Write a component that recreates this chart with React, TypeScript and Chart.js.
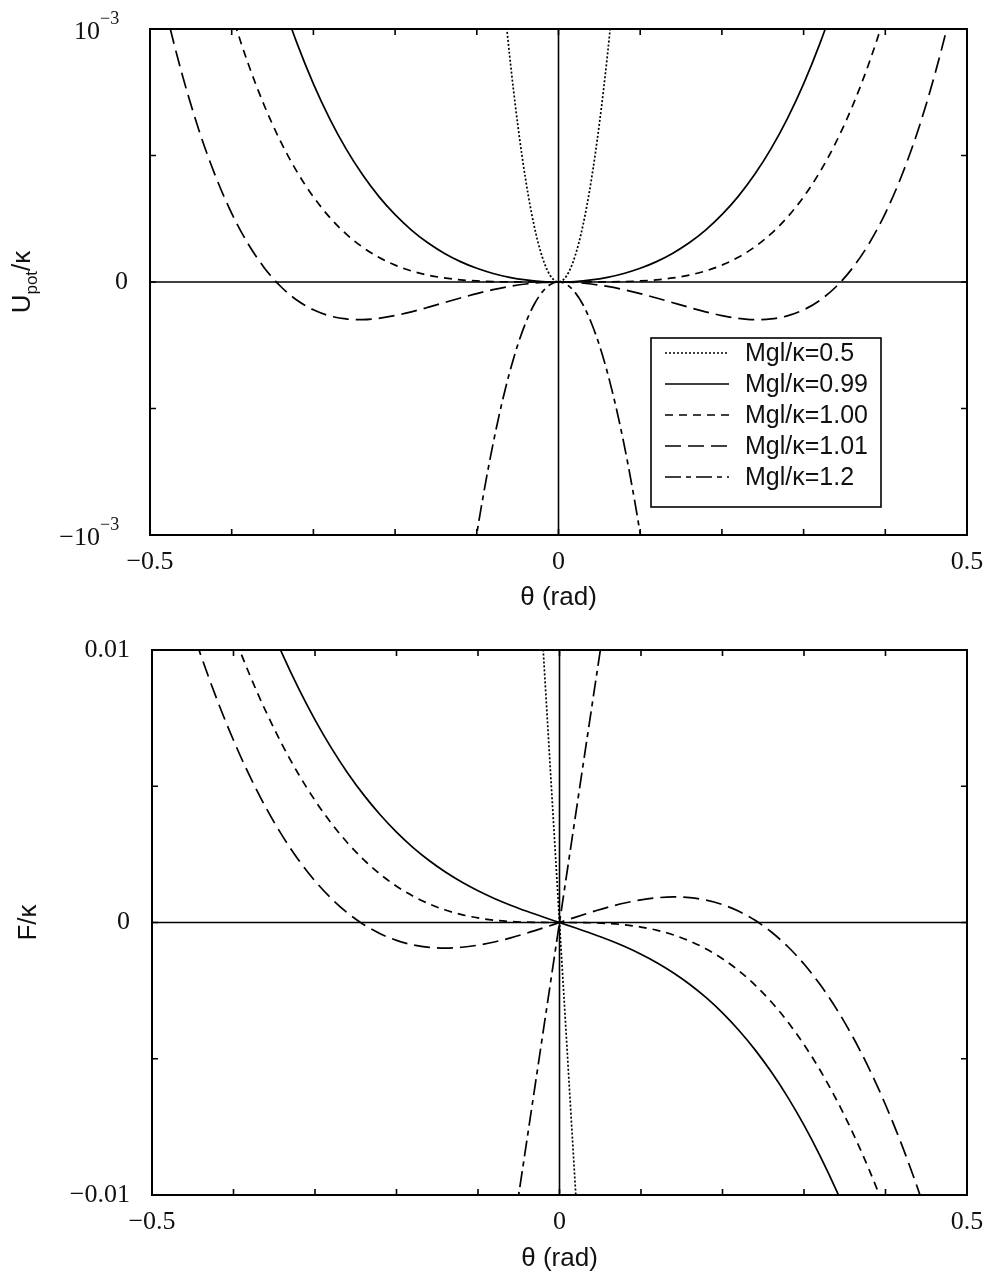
import React, { useEffect, useRef } from 'react';
import { Chart, registerables } from 'chart.js';

Chart.register(...registerables);

// ---------- labels ----------
const SERIES_LABELS = ['Mgl/κ=0.5', 'Mgl/κ=0.99', 'Mgl/κ=1.00', 'Mgl/κ=1.01', 'Mgl/κ=1.2'];
const SERIES_DASHES: number[][] = [[2, 2], [], [8, 6], [16, 7], [16, 5, 5, 5]];
const X_TICK_VALUES = [-0.5, 0, 0.5];
const X_TICK_LABELS = ['−0.5', '0', '0.5'];
const U_TICK_VALUES = [-1e-3, 0, 1e-3];
const U_TICK_BASES = ['−10', '0', '10'];
const U_TICK_EXPONENTS = ['−3', '', '−3'];
const F_TICK_VALUES = [-0.01, 0, 0.01];
const F_TICK_LABELS = ['−0.01', '0', '0.01'];
const X_TITLE = 'θ (rad)';
const F_TITLE = 'F/κ';

// ---------- top panel: U_pot/κ (values in units of 10^-3) ----------
const thetaU05 = [-0.07, -0.06, -0.05, -0.04, -0.03, -0.02, -0.01, 0, 0.01, 0.02, 0.03, 0.04, 0.05, 0.06, 0.07];
const u05 = [1.225, 0.9, 0.625, 0.4, 0.225, 0.1, 0.025, 0, 0.025, 0.1, 0.225, 0.4, 0.625, 0.9, 1.225];

const thetaU099 = [-0.36, -0.34, -0.32, -0.3, -0.28, -0.26, -0.24, -0.22, -0.2, -0.18, -0.16, -0.14, -0.12, -0.1, -0.08, -0.06, -0.04, -0.02, 0,
  0.02, 0.04, 0.06, 0.08, 0.1, 0.12, 0.14, 0.16, 0.18, 0.2, 0.22, 0.24, 0.26, 0.28, 0.3, 0.32, 0.34, 0.36];
const u099 = [1.338, 1.127, 0.943, 0.783, 0.6449, 0.5261, 0.4246, 0.3385, 0.266, 0.2053, 0.155, 0.1139, 0.0806, 0.0541, 0.0337, 0.0185, 0.0081, 0.002, 0,
  0.002, 0.0081, 0.0185, 0.0337, 0.0541, 0.0806, 0.1139, 0.155, 0.2053, 0.266, 0.3385, 0.4246, 0.5261, 0.6449, 0.783, 0.943, 1.127, 1.338];

const thetaU100 = [-0.42, -0.4, -0.38, -0.36, -0.34, -0.32, -0.3, -0.28, -0.26, -0.24, -0.22, -0.2, -0.18, -0.16, -0.14, -0.12, -0.1, -0.08, -0.06, -0.04, -0.02, 0,
  0.02, 0.04, 0.06, 0.08, 0.1, 0.12, 0.14, 0.16, 0.18, 0.2, 0.22, 0.24, 0.26, 0.28, 0.3, 0.32, 0.34, 0.36, 0.38, 0.4, 0.42];
const u100 = [1.289, 1.061, 0.8646, 0.6968, 0.5547, 0.4354, 0.3365, 0.2554, 0.19, 0.1382, 0.0976, 0.0667, 0.0437, 0.0273, 0.016, 0.0086, 0.0042, 0.0017, 0.0005, 0.0001, 0, 0,
  0, 0.0001, 0.0005, 0.0017, 0.0042, 0.0086, 0.016, 0.0273, 0.0437, 0.0667, 0.0976, 0.1382, 0.19, 0.2554, 0.3365, 0.4354, 0.5547, 0.6968, 0.8646, 1.061, 1.289];

const thetaU101 = [-0.5, -0.48, -0.46, -0.44, -0.42, -0.4, -0.38, -0.36, -0.34, -0.32, -0.3, -0.28, -0.26, -0.24, -0.22, -0.2, -0.18, -0.16, -0.14, -0.12, -0.1, -0.08, -0.06, -0.04, -0.02, 0,
  0.02, 0.04, 0.06, 0.08, 0.1, 0.12, 0.14, 0.16, 0.18, 0.2, 0.22, 0.24, 0.26, 0.28, 0.3, 0.32, 0.34, 0.36, 0.38, 0.4, 0.42, 0.44, 0.46, 0.48, 0.5];
const u101 = [1.358, 1.0646, 0.813, 0.5991, 0.4198, 0.2716, 0.1513, 0.0557, -0.0178, -0.0722, -0.1101, -0.134, -0.1461, -0.1487, -0.1436, -0.1327, -0.1178, -0.1004, -0.0818, -0.0633, -0.0458, -0.0303, -0.0175, -0.0079, -0.002, 0,
  -0.002, -0.0079, -0.0175, -0.0303, -0.0458, -0.0633, -0.0818, -0.1004, -0.1178, -0.1327, -0.1436, -0.1487, -0.1461, -0.134, -0.1101, -0.0722, -0.0178, 0.0557, 0.1513, 0.2716, 0.4198, 0.5991, 0.813, 1.0646, 1.358];

const thetaU12 = [-0.12, -0.11, -0.1, -0.09, -0.08, -0.07, -0.06, -0.05, -0.04, -0.03, -0.02, -0.01, 0, 0.01, 0.02, 0.03, 0.04, 0.05, 0.06, 0.07, 0.08, 0.09, 0.1, 0.11, 0.12];
const u12 = [-1.4296, -1.2027, -0.995, -0.8067, -0.638, -0.4888, -0.3594, -0.2497, -0.1599, -0.09, -0.04, -0.01, 0, -0.01, -0.04, -0.09, -0.1599, -0.2497, -0.3594, -0.4888, -0.638, -0.8067, -0.995, -1.2027, -1.4296];

// ---------- bottom panel: F/κ (values in units of 10^-3) ----------
const thetaF05 = [-0.03, -0.02, -0.01, 0, 0.01, 0.02, 0.03];
const f05 = [15.002, 10.001, 5.0, 0, -5.0, -10.001, -15.002];

const thetaF099 = [-0.36, -0.34, -0.32, -0.3, -0.28, -0.26, -0.24, -0.22, -0.2, -0.18, -0.16, -0.14, -0.12, -0.1, -0.08, -0.06, -0.04, -0.02, 0,
  0.02, 0.04, 0.06, 0.08, 0.1, 0.12, 0.14, 0.16, 0.18, 0.2, 0.22, 0.24, 0.26, 0.28, 0.3, 0.32, 0.34, 0.36];
const f099 = [11.248, 9.848, 8.579, 7.435, 6.408, 5.49, 4.674, 3.953, 3.317, 2.76, 2.275, 1.853, 1.485, 1.165, 0.884, 0.636, 0.411, 0.201, 0,
  -0.201, -0.411, -0.636, -0.884, -1.165, -1.485, -1.853, -2.275, -2.76, -3.317, -3.953, -4.674, -5.49, -6.408, -7.435, -8.579, -9.848, -11.248];

const thetaF100 = [-0.42, -0.4, -0.38, -0.36, -0.34, -0.32, -0.3, -0.28, -0.26, -0.24, -0.22, -0.2, -0.18, -0.16, -0.14, -0.12, -0.1, -0.08, -0.06, -0.04, -0.02, 0,
  0.02, 0.04, 0.06, 0.08, 0.1, 0.12, 0.14, 0.16, 0.18, 0.2, 0.22, 0.24, 0.26, 0.28, 0.3, 0.32, 0.34, 0.36, 0.38, 0.4, 0.42];
const f100 = [12.239, 10.581, 9.079, 7.726, 6.513, 5.433, 4.48, 3.644, 2.919, 2.297, 1.77, 1.331, 0.972, 0.683, 0.457, 0.288, 0.167, 0.085, 0.036, 0.011, 0.001, 0,
  -0.001, -0.011, -0.036, -0.085, -0.167, -0.288, -0.457, -0.683, -0.972, -1.331, -1.77, -2.297, -2.919, -3.644, -4.48, -5.433, -6.513, -7.726, -9.079, -10.581, -12.239];

const thetaF101 = [-0.48, -0.46, -0.44, -0.42, -0.4, -0.38, -0.36, -0.34, -0.32, -0.3, -0.28, -0.26, -0.24, -0.22, -0.2, -0.18, -0.16, -0.14, -0.12, -0.1, -0.08, -0.06, -0.04, -0.02, 0,
  0.02, 0.04, 0.06, 0.08, 0.1, 0.12, 0.14, 0.16, 0.18, 0.2, 0.22, 0.24, 0.26, 0.28, 0.3, 0.32, 0.34, 0.36, 0.38, 0.4, 0.42, 0.44, 0.46, 0.48];
const f101 = [13.602, 11.611, 9.8, 8.161, 6.687, 5.37, 4.203, 3.178, 2.288, 1.525, 0.881, 0.349, -0.08, -0.412, -0.656, -0.82, -0.91, -0.938, -0.909, -0.832, -0.714, -0.564, -0.389, -0.199, 0,
  0.199, 0.389, 0.564, 0.714, 0.832, 0.909, 0.938, 0.91, 0.82, 0.656, 0.412, 0.08, -0.349, -0.881, -1.525, -2.288, -3.178, -4.203, -5.37, -6.687, -8.161, -9.8, -11.611, -13.602];

const thetaF12 = [-0.06, -0.05, -0.04, -0.03, -0.02, -0.01, 0, 0.01, 0.02, 0.03, 0.04, 0.05, 0.06];
const f12 = [-11.957, -9.975, -7.987, -5.995, -3.998, -2.0, 0, 2.0, 3.998, 5.995, 7.987, 9.975, 11.957];

// ---------- styling ----------
const SERIF = "'Liberation Serif', 'Times New Roman', serif";
const SANS = "'Liberation Sans', Arial, sans-serif";
const INK = '#111';

const toPoints = (th: number[], vals: number[]) => th.map((t, i) => ({ x: t, y: vals[i] * 1e-3 }));

function makeDatasets(series: [number[], number[]][]) {
  return series.map(([th, v], i) => ({
    label: SERIES_LABELS[i],
    data: toPoints(th, v),
    borderColor: '#000',
    borderWidth: 1.7,
    borderDash: SERIES_DASHES[i],
    pointRadius: 0,
    fill: false,
    cubicInterpolationMode: 'monotone' as const,
  }));
}

const frameTicksPlugin = {
  id: 'frameTicks',
  beforeDatasetsDraw(chart: any) {
    const { ctx, chartArea: a, scales } = chart;
    const x0 = scales.x.getPixelForValue(0);
    const y0 = scales.y.getPixelForValue(0);
    ctx.save();
    ctx.strokeStyle = '#000';
    ctx.lineWidth = 1.6;
    ctx.beginPath();
    ctx.moveTo(a.left, y0);
    ctx.lineTo(a.right, y0);
    ctx.moveTo(x0, a.top);
    ctx.lineTo(x0, a.bottom);
    ctx.stroke();
    ctx.restore();
  },
  afterDatasetsDraw(chart: any) {
    const { ctx, chartArea: a, scales } = chart;
    ctx.save();
    ctx.strokeStyle = '#000';
    ctx.lineWidth = 1.6;
    const L = 6;
    ctx.beginPath();
    for (const t of scales.x.ticks) {
      const px = scales.x.getPixelForValue(t.value);
      ctx.moveTo(px, a.bottom);
      ctx.lineTo(px, a.bottom - L);
      ctx.moveTo(px, a.top);
      ctx.lineTo(px, a.top + L);
    }
    for (const t of scales.y.ticks) {
      const py = scales.y.getPixelForValue(t.value);
      ctx.moveTo(a.left, py);
      ctx.lineTo(a.left + L, py);
      ctx.moveTo(a.right, py);
      ctx.lineTo(a.right - L, py);
    }
    ctx.stroke();
    ctx.lineWidth = 2;
    ctx.strokeRect(a.left, a.top, a.right - a.left, a.bottom - a.top);
    ctx.restore();
  },
};

const legendPlugin = {
  id: 'boxLegend',
  afterDatasetsDraw(chart: any) {
    const { ctx } = chart;
    const box = { left: 651, top: 338, right: 881, bottom: 507 };
    ctx.save();
    ctx.fillStyle = '#fff';
    ctx.fillRect(box.left, box.top, box.right - box.left, box.bottom - box.top);
    ctx.strokeStyle = '#000';
    ctx.lineWidth = 1.6;
    ctx.strokeRect(box.left, box.top, box.right - box.left, box.bottom - box.top);
    chart.data.datasets.forEach((ds: any, i: number) => {
      const yRow = 353 + i * 31;
      ctx.setLineDash(ds.borderDash || []);
      ctx.lineWidth = 1.6;
      ctx.beginPath();
      ctx.moveTo(665, yRow);
      ctx.lineTo(729, yRow);
      ctx.stroke();
      ctx.setLineDash([]);
      ctx.fillStyle = INK;
      ctx.font = `25px ${SANS}`;
      ctx.textAlign = 'left';
      ctx.textBaseline = 'middle';
      ctx.fillText(ds.label, 745, yRow + 1);
    });
    ctx.restore();
  },
};

const uLabelsPlugin = {
  id: 'uLabels',
  afterDraw(chart: any) {
    const { ctx, chartArea: a, scales } = chart;
    ctx.save();
    ctx.fillStyle = INK;
    U_TICK_VALUES.forEach((v, i) => {
      if (!U_TICK_EXPONENTS[i]) return;
      const py = scales.y.getPixelForValue(v);
      const base = py + 10;
      ctx.font = `26px ${SERIF}`;
      ctx.textAlign = 'right';
      ctx.textBaseline = 'alphabetic';
      ctx.fillText(U_TICK_BASES[i], 100, base);
      ctx.font = `18px ${SERIF}`;
      ctx.textAlign = 'left';
      ctx.fillText(U_TICK_EXPONENTS[i], 100, base - 15);
    });
    // rotated y title U_pot/κ
    const yc = (a.top + a.bottom) / 2;
    ctx.translate(30, yc);
    ctx.rotate(-Math.PI / 2);
    ctx.textBaseline = 'alphabetic';
    ctx.textAlign = 'left';
    ctx.font = `26px ${SANS}`;
    const wU = ctx.measureText('U').width;
    const wK = ctx.measureText('/κ').width;
    ctx.font = `17px ${SANS}`;
    const wP = ctx.measureText('pot').width;
    let x = -(wU + wP + wK) / 2;
    ctx.font = `26px ${SANS}`;
    ctx.fillText('U', x, 0);
    x += wU;
    ctx.font = `17px ${SANS}`;
    ctx.fillText('pot', x, 7);
    x += wP;
    ctx.font = `26px ${SANS}`;
    ctx.fillText('/κ', x, 0);
    ctx.restore();
  },
};

function labelFor(values: number[], labels: string[]) {
  return (v: any) => {
    const n = Number(v);
    const i = values.findIndex((t) => Math.abs(t - n) < 1e-9);
    return i >= 0 ? labels[i] : '';
  };
}

function buildConfig(kind: 'U' | 'F'): any {
  const isU = kind === 'U';
  const datasets = isU
    ? makeDatasets([[thetaU05, u05], [thetaU099, u099], [thetaU100, u100], [thetaU101, u101], [thetaU12, u12]])
    : makeDatasets([[thetaF05, f05], [thetaF099, f099], [thetaF100, f100], [thetaF101, f101], [thetaF12, f12]]);
  const yLeft = isU ? 150 : 152;
  return {
    type: 'line',
    data: { datasets },
    plugins: isU ? [frameTicksPlugin, legendPlugin, uLabelsPlugin] : [frameTicksPlugin],
    options: {
      responsive: false,
      animation: false,
      devicePixelRatio: 1,
      layout: { padding: { top: isU ? 29 : 30, right: 23, left: 0, bottom: 0 } },
      plugins: { legend: { display: false }, tooltip: { enabled: false } },
      elements: { line: { tension: 0 } },
      scales: {
        x: {
          type: 'linear',
          min: -0.5,
          max: 0.5,
          afterFit: (s: any) => {
            s.height = isU ? 85 : 86;
            s.paddingLeft = 0;
            s.paddingRight = 0;
          },
          grid: { display: false, drawTicks: false },
          border: { display: false },
          ticks: {
            stepSize: 0.1,
            autoSkip: false,
            maxRotation: 0,
            padding: 12,
            color: INK,
            font: { family: SERIF, size: 26 },
            callback: labelFor(X_TICK_VALUES, X_TICK_LABELS),
          },
          title: {
            display: true,
            text: X_TITLE,
            color: INK,
            font: { family: SANS, size: 26 },
            padding: { top: 0, bottom: isU ? 7 : 7 },
          },
        },
        y: {
          type: 'linear',
          min: isU ? -1e-3 : -0.01,
          max: isU ? 1e-3 : 0.01,
          afterFit: (s: any) => {
            s.width = yLeft;
            s.paddingTop = 0;
            s.paddingBottom = 0;
          },
          grid: { display: false, drawTicks: false },
          border: { display: false },
          ticks: {
            stepSize: isU ? 0.5e-3 : 0.005,
            autoSkip: false,
            padding: 22,
            color: INK,
            font: { family: SERIF, size: 26 },
            callback: isU ? labelFor([0], ['0']) : labelFor(F_TICK_VALUES, F_TICK_LABELS),
          },
          title: {
            display: !isU,
            text: F_TITLE,
            color: INK,
            font: { family: SANS, size: 26 },
            padding: { top: 13, bottom: 0 },
          },
        },
      },
    },
  };
}

function Plot({ kind, width, height }: { kind: 'U' | 'F'; width: number; height: number }) {
  const ref = useRef<HTMLCanvasElement>(null);
  useEffect(() => {
    const chart = new Chart(ref.current as HTMLCanvasElement, buildConfig(kind));
    return () => chart.destroy();
  }, [kind]);
  return <canvas ref={ref} width={width} height={height} style={{ display: 'block', width, height }} />;
}

export default function App() {
  useEffect(() => {
    document.body.style.margin = '0';
    document.body.style.overflow = 'hidden';
  }, []);
  return (
    <div style={{ position: 'absolute', left: 0, top: 0, width: 990, height: 1281, background: '#fff' }}>
      <Plot kind="U" width={990} height={620} />
      <Plot kind="F" width={990} height={661} />
    </div>
  );
}
